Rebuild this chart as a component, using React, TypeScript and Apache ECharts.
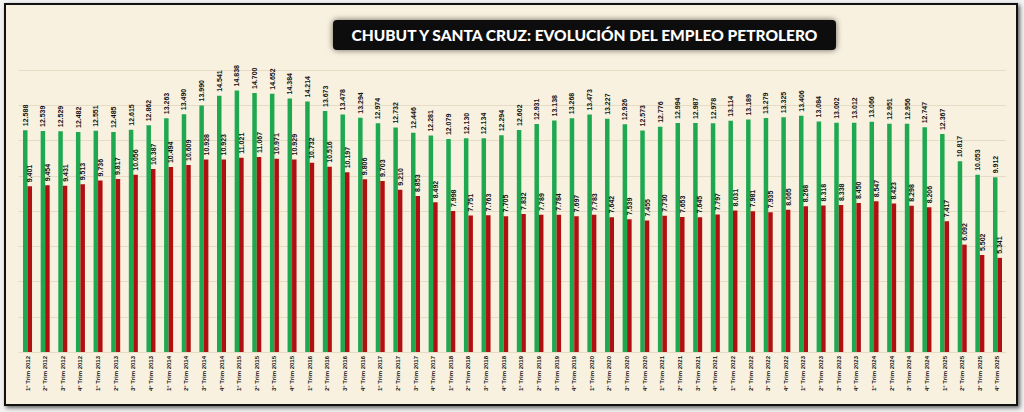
import React, { useEffect, useRef } from "react";
import * as echarts from "echarts";

const years = [2012, 2013, 2014, 2015, 2016, 2017, 2018, 2019, 2020, 2021, 2022, 2023, 2024, 2025];
const quarters = ["1°", "2°", "3°", "4°"];
const categories: string[] = [];
years.forEach((y) => quarters.forEach((q) => categories.push(`${q} Trim ${y}`)));

const greenValues = [
  12588, 12539, 12529, 12482, 12551, 12485, 12615, 12862, 13263, 13490,
  13990, 14541, 14838, 14700, 14652, 14384, 14214, 13673, 13478, 13294,
  12974, 12732, 12446, 12281, 12079, 12130, 12134, 12294, 12602, 12931,
  13138, 13268, 13473, 13227, 12926, 12573, 12776, 12994, 12987, 12978,
  13114, 13189, 13279, 13325, 13406, 13084, 13002, 13012, 13066, 12951,
  12956, 12747, 12367, 10817, 10053, 9912,
];
const redValues = [
  9401, 9454, 9431, 9513, 9736, 9817, 10056, 10387, 10494, 10609,
  10928, 10923, 11021, 11067, 10971, 10929, 10732, 10516, 10197, 9806,
  9703, 9210, 8853, 8492, 7998, 7751, 7763, 7705, 7832, 7789,
  7784, 7697, 7783, 7642, 7539, 7455, 7730, 7653, 7645, 7797,
  8031, 7981, 7935, 8065, 8268, 8318, 8338, 8450, 8547, 8423,
  8298, 8206, 7417, 6092, 5502, 5341,
];
const titleText = "CHUBUT Y SANTA CRUZ: EVOLUCIÓN DEL EMPLEO PETROLERO";

const fmt = (v: number) => {
  const s = String(Math.round(v));
  return s.replace(/\B(?=(\d{3})+(?!\d))/g, ".");
};

export default function App() {
  const ref = useRef<HTMLDivElement>(null);
  useEffect(() => {
    document.body.style.margin = "0";
    if (!ref.current) return;
    const chart = echarts.init(ref.current, null, { renderer: "svg" });
    const label = {
      show: true,
      position: "top" as const,
      rotate: 90,
      align: "left" as const,
      verticalAlign: "middle" as const,
      distance: 4,
      fontSize: 7,
      fontWeight: "bold" as const,
      fontFamily: "Liberation Sans, Arial, sans-serif",
      color: "#111",
      formatter: (p: any) => fmt(p.value),
    };
    chart.setOption({
      animation: false,
      backgroundColor: "transparent",
      grid: { left: 18.7, right: 17.7, top: 70, bottom: 60, containLabel: false },
      graphic: [
        {
          type: "rect",
          left: 333,
          top: 20,
          shape: { width: 503, height: 30, r: 4 },
          style: { fill: "#0a0a0a", shadowBlur: 6, shadowColor: "rgba(0,0,0,0.6)" },
          z: 10,
        },
        {
          type: "text",
          x: 584.5,
          y: 35,
          style: {
            text: titleText,
            fill: "#ffffff",
            fontSize: 15.5,
            fontWeight: 900,
            fontFamily: "Lato, Open Sans, sans-serif",
            align: "center",
            verticalAlign: "middle",
          },
          z: 11,
        },
      ],
      xAxis: {
        type: "category",
        data: categories,
        axisLine: { show: false },
        axisTick: { show: false },
        axisLabel: {
          interval: 0,
          rotate: 90,
          fontSize: 6,
          fontWeight: "bold",
          fontFamily: "Liberation Sans, Arial, sans-serif",
          color: "#111",
          margin: 4,
        },
      },
      yAxis: {
        type: "value",
        min: 0,
        max: 16000,
        interval: 2000,
        axisLabel: { show: false },
        axisLine: { show: false },
        axisTick: { show: false },
        splitLine: { show: true, lineStyle: { color: "#e6dcc6", width: 1 } },
      },
      series: [
        {
          type: "bar",
          data: greenValues,
          barWidth: 4.5,
          barGap: "0%",
          itemStyle: { color: "#1ea850" },
          label,
        },
        {
          type: "bar",
          data: redValues,
          barWidth: 4.5,
          barGap: "0%",
          itemStyle: { color: "#b01010" },
          label,
        },
      ],
    });
    return () => chart.dispose();
  }, []);

  return (
    <div style={{ position: "fixed", left: 0, top: 0, width: 1024, height: 412, background: "#f2f2f2" }}>
      <div
        style={{
          position: "absolute",
          left: 4,
          top: 3,
          width: 1010,
          height: 399,
          border: "2px solid #111",
          background: "#f9f1e0",
          boxShadow: "2px 2px 4px rgba(0,0,0,0.6)",
        }}
      />
      <div ref={ref} style={{ position: "absolute", left: 0, top: 0, width: 1024, height: 412 }} />
    </div>
  );
}
